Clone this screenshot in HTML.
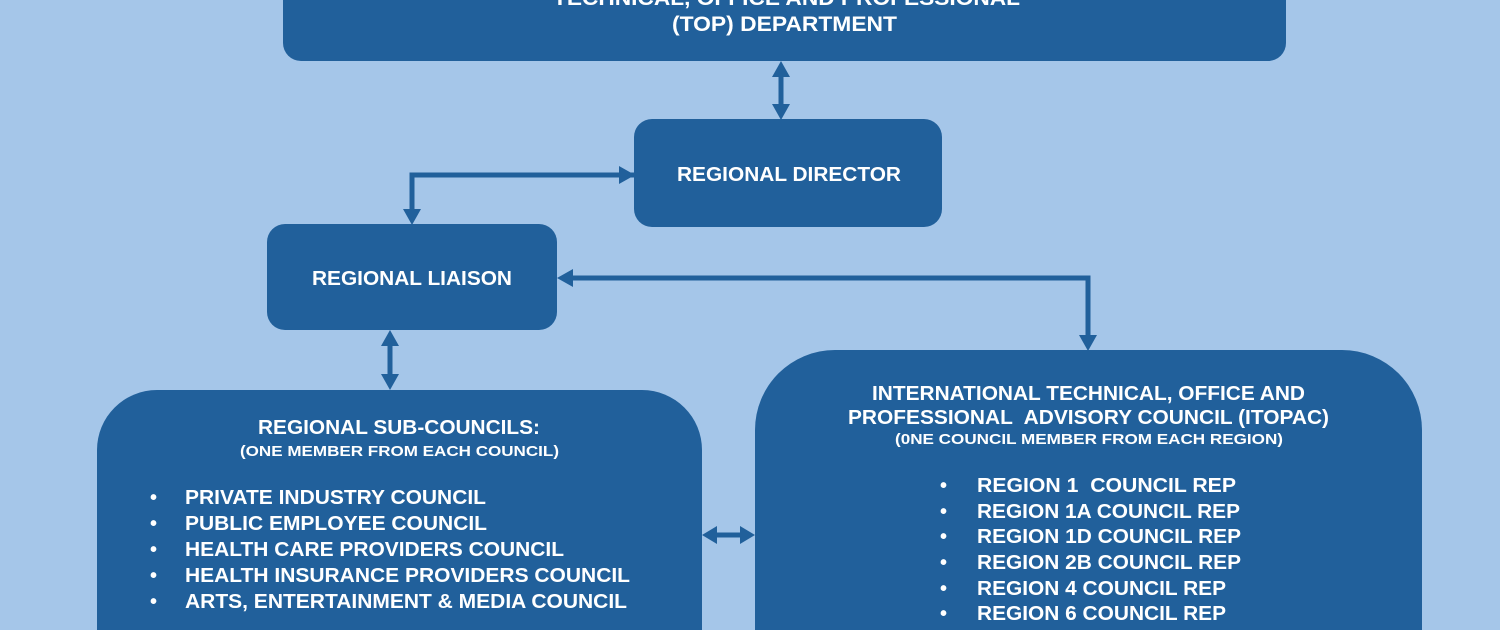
<!DOCTYPE html>
<html><head><meta charset="utf-8"><style>
html,body{margin:0;padding:0;background:#a5c6e9;width:1500px;height:630px;overflow:hidden}
text{font-family:"Liberation Sans",Arial,sans-serif;font-weight:bold;fill:#fff}
</style></head><body>
<svg width="1500" height="630" viewBox="0 0 1500 630" xmlns="http://www.w3.org/2000/svg">
<rect width="1500" height="630" fill="#a5c6e9"/>
<g fill="#21609b">
<path d="M283,0 H1286 V43 A18,18 0 0 1 1268,61 H301 A18,18 0 0 1 283,43 Z"/>
<rect x="634" y="119" width="308" height="108" rx="18"/>
<rect x="267" y="224" width="290" height="106" rx="18"/>
<path d="M97,630 V450 A60,60 0 0 1 157,390 H642 A60,60 0 0 1 702,450 V630 Z"/>
<path d="M755,630 V430 A80,80 0 0 1 835,350 H1342 A80,80 0 0 1 1422,430 V630 Z"/>
</g>
<g stroke="#21609b" stroke-width="5" fill="none">
<line x1="781" y1="74" x2="781" y2="107"/>
<polyline points="634,175 412,175 412,212"/>
<polyline points="570,278 1088,278 1088,338"/>
<line x1="390" y1="342" x2="390" y2="378"/>
<line x1="714" y1="535" x2="743" y2="535"/>
</g>
<g fill="#21609b">
<polygon points="781,61 772,77 790,77"/>
<polygon points="781,120 772,104 790,104"/>
<polygon points="635,175 619,166 619,184"/>
<polygon points="412,225 403,209 421,209"/>
<polygon points="557,278 573,269 573,287"/>
<polygon points="1088,351 1079,335 1097,335"/>
<polygon points="390,330 381,346 399,346"/>
<polygon points="390,390 381,374 399,374"/>
<polygon points="702,535 717,526 717,544"/>
<polygon points="755,535 740,526 740,544"/>
</g>
<text x="553" y="5" font-size="21" textLength="467" lengthAdjust="spacingAndGlyphs">TECHNICAL, OFFICE AND PROFESSIONAL</text>
<text x="672" y="31" font-size="21" textLength="225" lengthAdjust="spacingAndGlyphs">(TOP) DEPARTMENT</text>
<text x="677" y="181" font-size="20" textLength="224" lengthAdjust="spacingAndGlyphs">REGIONAL DIRECTOR</text>
<text x="312" y="285" font-size="20" textLength="200" lengthAdjust="spacingAndGlyphs">REGIONAL LIAISON</text>
<text x="258" y="434" font-size="20" textLength="282" lengthAdjust="spacingAndGlyphs">REGIONAL SUB-COUNCILS:</text>
<text x="240" y="456" font-size="15" textLength="319" lengthAdjust="spacingAndGlyphs">(ONE MEMBER FROM EACH COUNCIL)</text>
<g font-size="20">
<text x="150" y="504">•</text><text x="185" y="504" textLength="301" lengthAdjust="spacingAndGlyphs">PRIVATE INDUSTRY COUNCIL</text>
<text x="150" y="530">•</text><text x="185" y="530" textLength="302" lengthAdjust="spacingAndGlyphs">PUBLIC EMPLOYEE COUNCIL</text>
<text x="150" y="556">•</text><text x="185" y="556" textLength="379" lengthAdjust="spacingAndGlyphs">HEALTH CARE PROVIDERS COUNCIL</text>
<text x="150" y="582">•</text><text x="185" y="582" textLength="445" lengthAdjust="spacingAndGlyphs">HEALTH INSURANCE PROVIDERS COUNCIL</text>
<text x="150" y="608">•</text><text x="185" y="608" textLength="442" lengthAdjust="spacingAndGlyphs">ARTS, ENTERTAINMENT &amp; MEDIA COUNCIL</text>
</g>
<text x="872" y="400" font-size="20" textLength="433" lengthAdjust="spacingAndGlyphs">INTERNATIONAL TECHNICAL, OFFICE AND</text>
<text x="848" y="424" font-size="20" textLength="481" lengthAdjust="spacingAndGlyphs">PROFESSIONAL&#160; ADVISORY COUNCIL (ITOPAC)</text>
<text x="895" y="444" font-size="15" textLength="388" lengthAdjust="spacingAndGlyphs">(0NE COUNCIL MEMBER FROM EACH REGION)</text>
<g font-size="20">
<text x="940" y="492">•</text><text x="977" y="492" textLength="259" lengthAdjust="spacingAndGlyphs">REGION 1&#160; COUNCIL REP</text>
<text x="940" y="518">•</text><text x="977" y="518" textLength="263" lengthAdjust="spacingAndGlyphs">REGION 1A COUNCIL REP</text>
<text x="940" y="543">•</text><text x="977" y="543" textLength="264" lengthAdjust="spacingAndGlyphs">REGION 1D COUNCIL REP</text>
<text x="940" y="569">•</text><text x="977" y="569" textLength="264" lengthAdjust="spacingAndGlyphs">REGION 2B COUNCIL REP</text>
<text x="940" y="595">•</text><text x="977" y="595" textLength="249" lengthAdjust="spacingAndGlyphs">REGION 4 COUNCIL REP</text>
<text x="940" y="620">•</text><text x="977" y="620" textLength="249" lengthAdjust="spacingAndGlyphs">REGION 6 COUNCIL REP</text>
</g>
</svg>
</body></html>
